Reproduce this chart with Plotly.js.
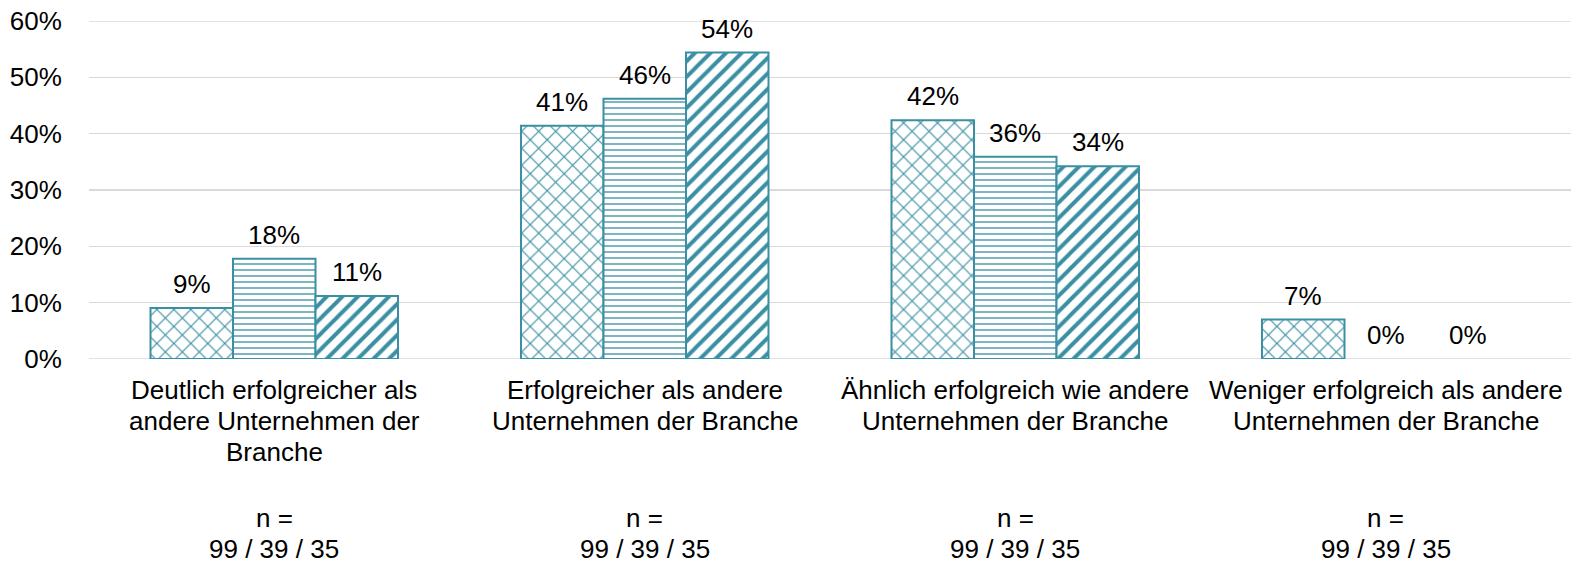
<!DOCTYPE html>
<html>
<head>
<meta charset="utf-8">
<script src="https://cdn.plot.ly/plotly-3.0.1.min.js"></script>
<style>
  html, body { margin: 0; padding: 0; background: #ffffff; }
  #chart { width: 1579px; height: 563px; }
</style>
</head>
<body>
<div id="chart"></div>
<script>
// ---- data ----
const categories = [
  "Deutlich erfolgreicher als<br>andere Unternehmen der<br>Branche",
  "Erfolgreicher als andere<br>Unternehmen der Branche",
  "Ähnlich erfolgreich wie andere<br>Unternehmen der Branche",
  "Weniger erfolgreich als andere<br>Unternehmen der Branche"
];
const series1 = [9.05, 41.4, 42.4, 7.0];
const series2 = [17.8, 46.2, 35.9, 0];
const series3 = [11.2, 54.4, 34.2, 0];
const labels1 = ["9%", "41%", "42%", "7%"];
const labels2 = ["18%", "46%", "36%", "0%"];
const labels3 = ["11%", "54%", "34%", "0%"];
const nLabels = ["n =<br>99 / 39 / 35", "n =<br>99 / 39 / 35", "n =<br>99 / 39 / 35", "n =<br>99 / 39 / 35"];
const yTicks = [0, 10, 20, 30, 40, 50, 60];

// ---- style ----
const teal = "#3A8FA3";
const FONT = "Liberation Sans, Arial, sans-serif";
const FS = 26;

const patterns = [
  {shape: "x", size: 12, solidity: 0.18},
  {shape: "-", size: 6, solidity: 0.22},
  {shape: "/", size: 11, solidity: 0.36}
];
const allSeries = [series1, series2, series3];
const allLabels = [labels1, labels2, labels3];

const traces = allSeries.map((vals, i) => ({
  type: "bar",
  x: categories,
  y: vals,
  marker: {
    color: "#ffffff",
    line: {color: teal, width: vals.map(v => v > 0 ? 2 : 0)},
    pattern: {shape: patterns[i].shape, size: patterns[i].size, solidity: patterns[i].solidity, fgcolor: teal, bgcolor: "#ffffff", fillmode: "replace"}
  },
  hoverinfo: "skip",
  showlegend: false
}));

const annotations = [];
const barPx = 82.7;
allSeries.forEach((vals, i) => {
  vals.forEach((v, j) => {
    annotations.push({
      x: categories[j], y: v, xref: "x", yref: "y",
      text: allLabels[i][j], showarrow: false,
      xshift: (i - 1) * barPx, yshift: 24, yanchor: "middle", xanchor: "center",
      font: {family: FONT, size: FS, color: "#000000"}
    });
  });
});

const lineShifts = [-31, -62.3, -93.3];
categories.forEach((c, j) => {
  c.split("<br>").forEach((line, k) => {
    annotations.push({
      x: c, y: 0, xref: "x", yref: "y", text: line, showarrow: false,
      yshift: lineShifts[k], yanchor: "middle", xanchor: "center",
      font: {family: FONT, size: FS, color: "#000000"}
    });
  });
  nLabels[j].split("<br>").forEach((line, k) => {
    annotations.push({
      x: c, y: 0, xref: "x", yref: "y", text: line, showarrow: false,
      yshift: k === 0 ? -159 : -189.5, yanchor: "middle", xanchor: "center",
      font: {family: FONT, size: FS, color: "#000000"}
    });
  });
});

// gridlines at the range ends (Plotly hides gridlines on the plot edges)
const edgeLines = [yTicks[0], yTicks[yTicks.length - 1]].map(v => ({
  type: "line", xref: "paper", yref: "y", x0: 0, x1: 1, y0: v, y1: v,
  line: {color: "#d9d9d9", width: 1.5}, layer: "below"
}));

const layout = {
  width: 1579, height: 563,
  margin: {l: 88.5, r: 7.5, t: 21.3, b: 203.7, pad: 0},
  paper_bgcolor: "#ffffff", plot_bgcolor: "#ffffff",
  barmode: "group", bargap: 0.332, bargroupgap: 0,
  font: {family: FONT, size: FS, color: "#000000"},
  xaxis: {showticklabels: false, showgrid: false, zeroline: false, showline: false, ticks: ""},
  yaxis: {
    range: [0, 60], tickvals: yTicks, ticktext: yTicks.map(v => v + "%"),
    showgrid: true, gridcolor: "#d9d9d9", gridwidth: 1.5,
    zeroline: false, showline: false, ticks: "outside", ticklen: 21, tickcolor: "rgba(0,0,0,0)",
    tickfont: {family: FONT, size: FS, color: "#000000"}
  },
  shapes: edgeLines,
  annotations: annotations,
  showlegend: false
};

Plotly.newPlot("chart", traces, layout, {displayModeBar: false, staticPlot: true});
</script>
</body>
</html>
